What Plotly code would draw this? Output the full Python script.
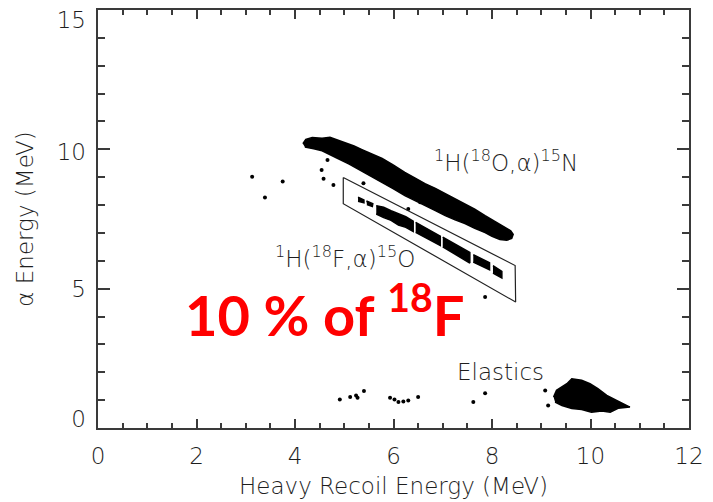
import plotly.graph_objects as go

# Outline of the dense 1H(18O,a)15N band (upper edge then lower edge), MeV
band_o18_x = [4.16, 4.22, 4.35, 4.55, 4.71, 4.88, 5.02, 5.20, 5.36, 5.55, 5.77, 6.00, 6.23,
              6.45, 6.64, 6.85, 7.05, 7.25, 7.45, 7.65, 7.86, 8.05, 8.26, 8.38, 8.43,
              8.40, 8.30, 8.16, 8.00, 7.86, 7.65, 7.45, 7.25, 7.05, 6.85, 6.64, 6.45,
              6.23, 6.00, 5.77, 5.55, 5.36, 5.10, 4.87, 4.70, 4.55, 4.38, 4.20]
band_o18_y = [10.20, 10.36, 10.42, 10.40, 10.43, 10.33, 10.24, 10.12, 9.99, 9.85, 9.67, 9.43, 9.17,
              8.96, 8.77, 8.60, 8.41, 8.24, 8.05, 7.85, 7.62, 7.42, 7.19, 7.08, 6.95,
              6.80, 6.74, 6.76, 6.88, 7.01, 7.17, 7.34, 7.47, 7.62, 7.80, 7.98, 8.15,
              8.34, 8.58, 8.81, 9.02, 9.24, 9.47, 9.67, 9.82, 9.95, 10.02, 10.08]

# Fragmented 1H(18F,a)15O band, pieces separated by None
band_f18_x = [5.28, 5.40, 5.40, 5.28, None,
              5.45, 5.58, 5.57, 5.46, None,
              5.65, 5.80, 5.95, 6.10, 6.25, 6.40, 6.40, 6.25, 6.10, 5.95, 5.80, 5.65, None,
              6.45, 6.70, 6.95, 6.95, 6.70, 6.45, None,
              7.00, 7.25, 7.55, 7.55, 7.25, 7.00, None,
              7.62, 7.95, 7.95, 7.62, None,
              8.02, 8.20, 8.20, 8.02]
band_f18_y = [8.28, 8.18, 8.08, 8.14, None,
              8.15, 8.05, 7.95, 8.02, None,
              7.98, 7.92, 7.80, 7.68, 7.58, 7.42, 7.05, 7.20, 7.28, 7.45, 7.55, 7.68, None,
              7.38, 7.12, 6.88, 6.55, 6.78, 7.02, None,
              6.85, 6.60, 6.30, 5.92, 6.22, 6.50, None,
              6.22, 5.93, 5.68, 5.95, None,
              5.83, 5.62, 5.38, 5.56]

# Elastic scattering blob outline
elastic_x = [9.25, 9.31, 9.52, 9.62, 9.82, 9.99, 10.15, 10.33, 10.53, 10.76, 10.80,
             10.56, 10.40, 10.23, 10.02, 9.82, 9.62, 9.42, 9.28]
elastic_y = [1.11, 1.35, 1.59, 1.77, 1.71, 1.59, 1.41, 1.17, 0.99, 0.81, 0.75,
             0.71, 0.57, 0.61, 0.57, 0.66, 0.70, 0.81, 0.93]

# Isolated events
event_x = [3.13, 3.75, 3.39, 4.66, 4.54, 4.58, 4.78, 5.39, 6.30, 6.54, 7.86,
           4.91, 5.12, 5.24, 5.27, 5.40, 5.93, 6.02, 6.10, 6.20, 6.30, 6.50,
           7.62, 7.86, 9.08, 9.14]
event_y = [9.02, 8.85, 8.27, 9.62, 9.26, 8.94, 8.72, 8.78, 7.86, 8.10, 4.70,
           1.02, 1.11, 1.17, 1.09, 1.33, 1.09, 1.02, 0.93, 0.95, 0.99, 1.11,
           0.93, 1.25, 1.35, 0.81]

# Gate drawn around the 18F band
gate_x = [4.98, 8.47, 8.48, 4.98, 4.98]
gate_y = [8.99, 5.83, 4.52, 8.05, 8.99]

x_ticks = [0, 2, 4, 6, 8, 10, 12]
y_ticks = [0, 5, 10, 15]
y_tick_text = ["0", "5", "10", "15"]
# end labels are pulled inside the frame so they stay within the axis extent
y_label_nudge = [0.32, 0.0, -0.08, -0.34]

axis_col = "#3a3a3a"
txt_col = "#1e1e1e"
font_main = "DejaVu Sans, sans-serif"
thin = 300

fig = go.Figure()

for bx, by in [(band_o18_x, band_o18_y), (band_f18_x, band_f18_y), (elastic_x, elastic_y)]:
    fig.add_trace(go.Scatter(x=bx, y=by, mode="lines", fill="toself",
                             fillcolor="black", line=dict(color="black", width=1.5),
                             hoverinfo="skip", showlegend=False))

fig.add_trace(go.Scatter(x=event_x, y=event_y, mode="markers",
                         marker=dict(color="black", size=4), showlegend=False))

fig.add_trace(go.Scatter(x=gate_x, y=gate_y, mode="lines",
                         line=dict(color="#222222", width=1.2), showlegend=False))

# empty trace that carries the label axis
fig.add_trace(go.Scatter(x=[], y=[], yaxis="y2", showlegend=False, hoverinfo="skip"))

label_font = dict(family=font_main, size=23, color=txt_col, weight=thin)
fig.add_annotation(x=6.78, y=9.58, xanchor="left", yanchor="middle", showarrow=False,
                   text="<sup>1</sup>H(<sup>18</sup>O,α)<sup>15</sup>N", font=label_font)
fig.add_annotation(x=3.55, y=6.15, xanchor="left", yanchor="middle", showarrow=False,
                   text="<sup>1</sup>H(<sup>18</sup>F,α)<sup>15</sup>O", font=label_font)
fig.add_annotation(x=7.25, y=2.0, xanchor="left", yanchor="middle", showarrow=False,
                   text="Elastics", font=label_font)
fig.add_annotation(x=1.73, y=4.23, xanchor="left", yanchor="middle", showarrow=False,
                   text="10 % of <sup>18</sup>F",
                   font=dict(family="Lato, sans-serif", size=56, color="#ff0000", weight="bold"))

common = dict(showline=True, linecolor=axis_col, linewidth=1.5, mirror="ticks",
              ticks="inside", tickcolor=axis_col, tickwidth=1.5, automargin=False,
              showgrid=False, zeroline=False,
              tickfont=dict(family=font_main, size=23, color=txt_col, weight=thin))

fig.update_xaxes(range=[0, 12], tickvals=x_ticks, ticklen=9, ticklabelstandoff=7,
                 minor=dict(dtick=0.5, ticklen=5, ticks="inside", tickcolor=axis_col, tickwidth=1.5),
                 title=dict(text="Heavy Recoil Energy (MeV)", standoff=10,
                            font=dict(family=font_main, size=23, color=txt_col, weight=thin)),
                 **common)
fig.update_yaxes(range=[0, 15], tickvals=y_ticks, ticklen=12, showticklabels=False,
                 minor=dict(dtick=1, ticklen=7, ticks="inside", tickcolor=axis_col, tickwidth=1.5),
                 **common)

fig.update_layout(
    yaxis2=dict(overlaying="y", side="left", range=[0, 15], automargin=False,
                showline=False, ticks="", showgrid=False, zeroline=False,
                tickvals=[v + d for v, d in zip(y_ticks, y_label_nudge)],
                ticktext=y_tick_text, ticklabelstandoff=11,
                tickfont=dict(family=font_main, size=23, color=txt_col, weight=thin),
                title=dict(text="α Energy (MeV)", standoff=16,
                           font=dict(family=font_main, size=23, color=txt_col, weight=thin))),
    width=713, height=502, autosize=False,
    margin=dict(l=98, r=24, t=10, b=74),
    plot_bgcolor="white", paper_bgcolor="white", showlegend=False)

fig.write_html("out.html")
